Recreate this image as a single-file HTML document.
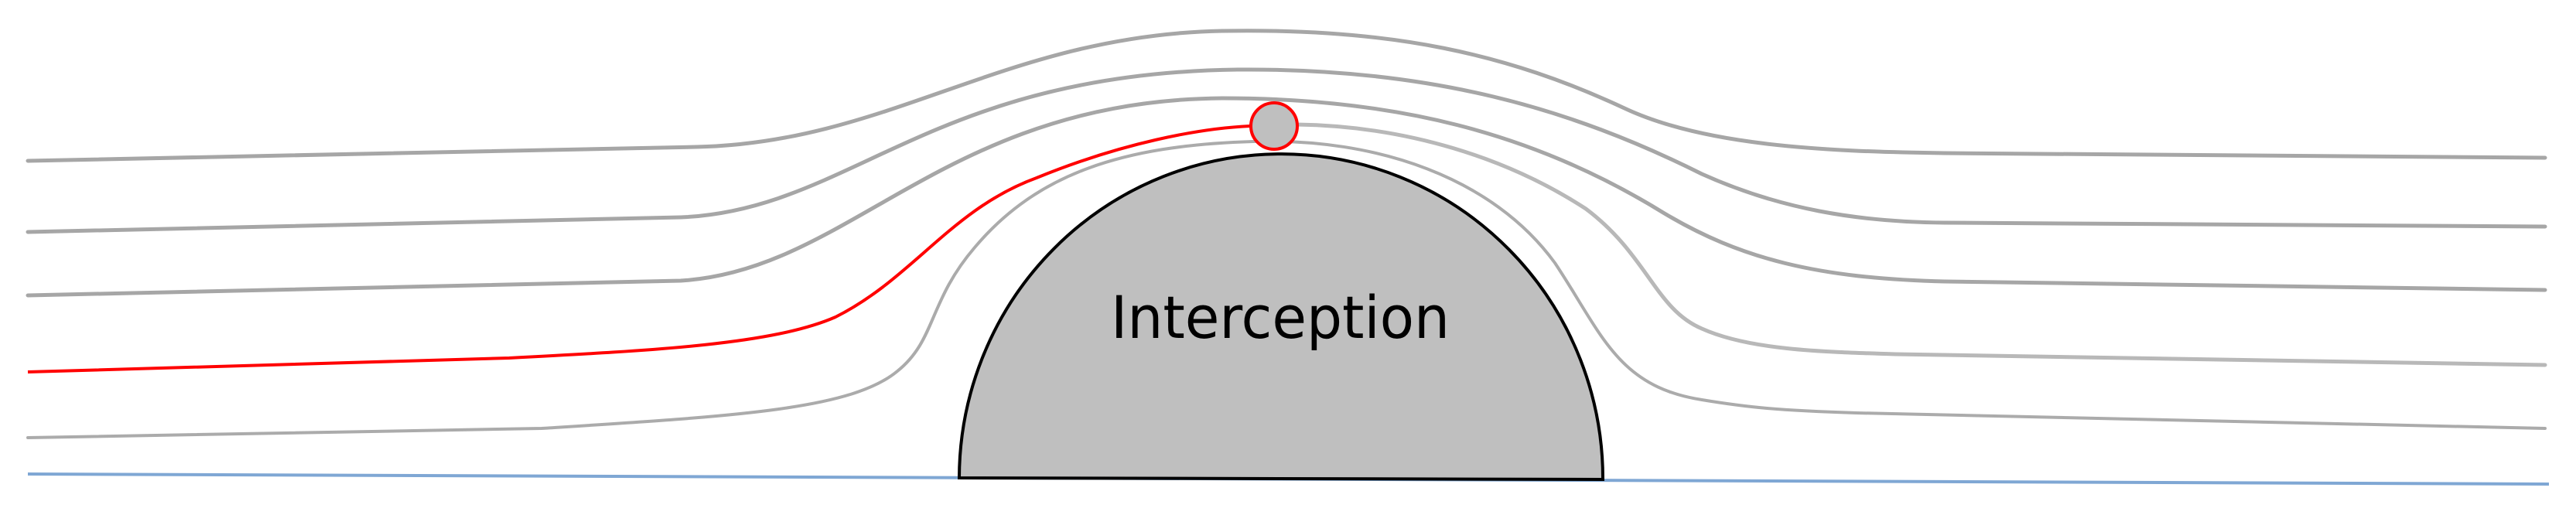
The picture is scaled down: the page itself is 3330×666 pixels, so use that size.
<!DOCTYPE html>
<html>
<head>
<meta charset="utf-8">
<style>
html,body{margin:0;padding:0;background:#fff;}
svg{display:block;}
</style>
</head>
<body>
<svg width="3330" height="666" viewBox="0 0 3330 666" xmlns="http://www.w3.org/2000/svg">
  <rect width="3330" height="666" fill="#fff"/>
  <path d="M36,613 L3295,626" stroke="#7fa7d4" stroke-width="4" fill="none"/>
  <g fill="none" stroke="#a6a6a6" stroke-width="5" stroke-linecap="round">
    <path d="M36,208 L900,190 C1150,185 1300,45 1580,40 C1800,36 1950,70 2100,140 C2200,187 2350,196 2514,198 L3290,204"/>
    <path d="M36,300 L880,281 C1100,272 1200,95 1600,90 C1850,88 2030,140 2200,225 C2300,270 2400,287 2514,288 L3290,293"/>
    <path d="M36,382 L880,363 C1100,350 1220,130 1580,127 C1800,127 1980,170 2150,275 C2250,335 2350,360 2514,364 L3290,375"/>
    <path d="M1676,161 C1820,163 1950,205 2050,270 C2130,330 2140,400 2200,425 C2260,452 2350,455 2450,458 L3290,472" stroke="#b8b8b8"/>
    <path d="M36,566 L700,554 C950,538 1100,530 1160,480 C1210,440 1200,390 1260,320 C1340,225 1450,188 1620,183 C1780,178 1930,230 2010,340 C2070,430 2090,500 2200,517 C2260,527 2302,531 2400,534 L3290,554" stroke="#ababab" stroke-width="4"/>
  </g>
  <path d="M36,481 L658,463 C850,453 1000,445 1080,410 C1180,360 1230,270 1340,230 C1450,185 1550,166 1616,163" fill="none" stroke="#ff0000" stroke-width="4"/>
  <path d="M1240,618 A416,420 0 0 1 2072,620 Z" fill="#bfbfbf" stroke="#000" stroke-width="4"/>
  <circle cx="1647" cy="163" r="30" fill="#bfbfbf" stroke="#ff0000" stroke-width="4"/>
  <text x="1655" y="437" font-family="DejaVu Sans Condensed, Liberation Sans Narrow, Liberation Sans, sans-serif" font-size="76" text-anchor="middle" textLength="438" lengthAdjust="spacingAndGlyphs" fill="#000">Interception</text>
</svg>
</body>
</html>
